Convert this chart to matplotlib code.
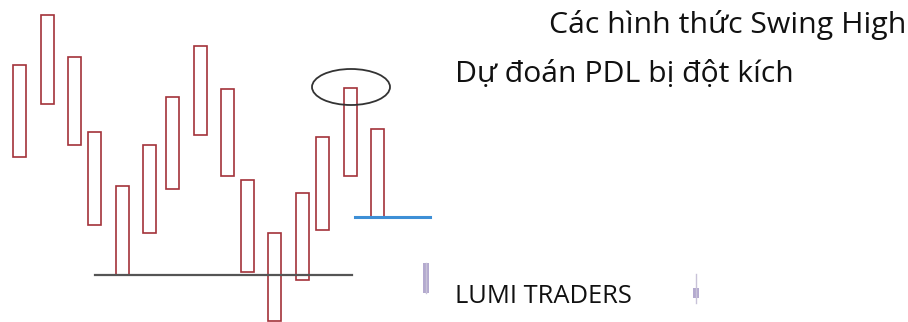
import matplotlib.pyplot as plt
from matplotlib.patches import Rectangle, Ellipse

# bar positions (x centre) and price range (high / low), price grows upward
bar_x = [19, 47, 74, 94, 122, 149, 172, 200, 227, 247, 274.5, 302, 322.5, 350, 377]
bar_high = [257, 307, 265, 190, 136, 177, 225, 276, 233, 142, 89, 129, 185, 234, 193]
bar_low = [165, 218, 177, 97, 47, 89, 133, 187, 146, 50, 1, 42, 92, 146, 105]

# faint candles on the right (x, body top, body bottom, wick top, wick bottom)
ghost_x = [426, 696]
ghost_top = [59, 34]
ghost_bot = [29, 24]
ghost_wick_top = [59, 48]
ghost_wick_bot = [29, 19]

support_level = 47      # black line, previous low
pdl_level = 105         # blue line
swing_high = (351, 235)

title = "Các hình thức Swing High"
subtitle = "Dự đoán PDL bị đột kích"
brand = "LUMI TRADERS"

plt.rcParams['font.family'] = ['Open Sans', 'DejaVu Sans']

fig = plt.figure(figsize=(9.08, 3.22), dpi=100)
ax = fig.add_axes([0, 0, 1, 1])
ax.set_xlim(0, 908)
ax.set_ylim(0, 322)
ax.axis("off")

bar_w = 13
for x, hi, lo in zip(bar_x, bar_high, bar_low):
    ax.add_patch(Rectangle((x - bar_w / 2, lo), bar_w, hi - lo,
                           facecolor="none", edgecolor="#a3323a", lw=1.2))

ax.plot([95, 352], [support_level] * 2, color="#555555", lw=1.6, zorder=1)
ax.plot([355, 430], [pdl_level] * 2, color="#3d8fd6", lw=2.2)

ax.add_patch(Ellipse(swing_high, 78, 36, facecolor="none",
                     edgecolor="#333333", lw=1.3))

for x, t, b, wt, wb in zip(ghost_x, ghost_top, ghost_bot, ghost_wick_top, ghost_wick_bot):
    ax.plot([x, x], [wb, wt], color="#c8c2d8", lw=1.0)
    ax.add_patch(Rectangle((x - 3, b), 6, t - b, facecolor="#b4aacf",
                           edgecolor="none"))

ax.text(549, 289, title, fontsize=21.8, va="baseline", ha="left", color="#111111")
ax.text(455, 240, subtitle, fontsize=21.7, va="baseline", ha="left", color="#111111")
ax.text(455, 19, brand, fontsize=18.4, va="baseline", ha="left", color="#111111")

fig.savefig("out.png", dpi=100)
